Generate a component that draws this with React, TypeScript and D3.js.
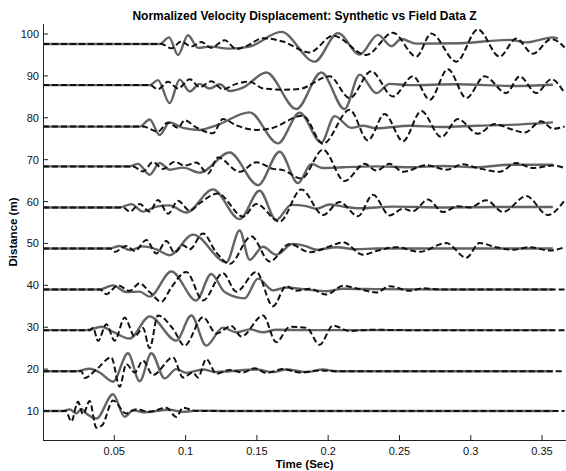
import React from "react";
import * as d3 from "d3";

// receiver offsets (m) and where each trace sits on the axis
const distances = [100, 90, 80, 70, 60, 50, 40, 30, 20, 10];
const baselines = [97.6, 87.8, 77.9, 68.4, 58.6, 48.8, 39.0, 29.3, 19.5, 10.0];

// [time (ms), amplitude (m)] key points
const synthetic: number[][][] = [
  [[0,0],[81.8,0],[88.4,1.6],[94.7,-2.6],[101.7,2.1],[108.7,-0.9],[116.9,-0.6],[130.9,-1.1],[144.9,-0.6],[167.1,2.9],[190.5,-4.2],[206.9,2.6],[222.1,-2.5],[234.9,2.2],[244.3,-0.5],[251.3,1.2],[261.8,0.1],[292.2,0.2],[327.3,1.0],[338.9,0.4],[357.6,1.6],[361.1,1.3]],
  [[0,0],[74.8,0],[80.6,1.2],[88.8,-4.3],[95.8,1.3],[102.9,-1.5],[109.9,0.3],[116.9,-0.8],[124,0.2],[130.9,-1.4],[140.3,-0.6],[156.6,3.0],[177.7,-5.7],[195.2,3.0],[211.5,-5.7],[222.1,2.5],[233.8,-1.9],[243.1,0.3],[257.1,0],[290,0.2],[330,-0.2],[357.6,0.1]],
  [[0,0],[67.8,0],[74.8,1.7],[81.8,-2.0],[88.8,1.0],[98.2,-0.3],[109.9,-0.8],[121.6,0.3],[144.9,3.4],[164.8,-4.0],[180.0,3.3],[195.2,-3.8],[204.5,2.5],[216.2,-0.3],[224.4,0.2],[233.8,-0.4],[257.1,0.2],[280.5,-0.1],[303.9,0.2],[327.3,0.4],[357.6,1.0]],
  [[0,0],[60.8,0],[66.6,0.6],[74.8,-2.0],[81.8,0.8],[88.8,-0.8],[98.2,-0.3],[109.9,-1.5],[130.9,3.3],[150.8,-4.5],[166.0,3.5],[178.8,-4.0],[188.2,0.6],[196.4,-0.4],[210.4,-0.2],[233.8,0],[257.1,-0.2],[280.5,0.1],[303.9,-0.2],[327.3,0.4],[357.6,0.4]],
  [[0,0],[53.8,0],[61.9,0.8],[70.1,-1.0],[79.5,0.2],[88.8,0.5],[100.5,-1.2],[119.2,4.3],[137.9,-2.8],[151.9,4.0],[163.6,-3.0],[174.1,0.6],[184.7,0.3],[191.7,-0.3],[201.0,0.7],[210.4,0.2],[222.1,-0.2],[245,0.2],[280,0],[320,0.1],[357.6,0.1]],
  [[0,0],[46.8,0],[53.8,0.6],[60.8,-0.4],[70.1,0.5],[79.5,-0.2],[88.8,-1.6],[105.2,3.3],[128.6,-3.3],[137.9,4.3],[144.9,-2.7],[154.3,0.4],[163.6,-1.5],[175.3,1.1],[184.7,0.5],[191.7,-0.3],[205.7,0.3],[219.7,-0.2],[233.8,0],[357.6,0]],
  [[0,0],[39.7,0],[49.1,1.0],[58.4,-0.6],[67.8,-0.5],[74.8,-1.7],[90.0,4.3],[107.5,-2.6],[118.0,3.7],[127.4,-0.6],[141.4,-2.1],[150.8,2.6],[161.3,-0.2],[170.6,0.5],[184.7,0],[198.7,-0.4],[210.4,0.2],[233.8,0.1],[280,0],[357.6,0]],
  [[0,0],[30.4,0],[40.9,0.8],[49.1,-0.4],[60.8,-2.0],[74.8,3.3],[93.5,-2.5],[104.0,3.5],[114.5,-3.7],[126.2,0.6],[135.6,-0.5],[144.9,0.2],[154.3,-0.5],[163.6,0.1],[187.0,0],[357.6,0]],
  [[0,0],[23.4,0],[32.7,0.6],[39.7,-0.3],[49.1,-2.5],[59.6,4.3],[67.8,-2.4],[76.0,4.3],[85.3,-1.7],[93.5,0.5],[100.5,-0.4],[112.2,0.4],[121.6,-0.2],[130.9,0],[149.6,0.4],[161.3,-0.2],[170.6,0.4],[184.7,-0.2],[196.4,0.4],[205.7,0],[357.6,0]],
  [[0,0],[14.0,0],[18.7,0.4],[23.4,-0.6],[26.9,0.5],[30.4,-0.6],[37.4,-1.8],[49.1,4.0],[57.3,-1.4],[63.1,0.2],[70.1,-0.3],[88.8,0.3],[98.2,-0.2],[107.5,0.1],[130,0],[357.6,0]],
];

const field: number[][][] = [
  [[0,0],[83.0,0],[90.0,-1.0],[97.0,0.6],[104.0,-0.6],[111.0,0.5],[118.0,-0.9],[127.4,0.9],[135.6,-1.2],[142.6,-0.5],[154.3,1.4],[168.3,0.6],[187.0,-2.0],[203.4,2.0],[226.7,-2.6],[245.4,2.7],[261.8,-3.0],[272.3,2.5],[289.9,-4.2],[305.0,3.5],[320.2,-3.0],[331.9,1.3],[343.6,-2.3],[356.5,1.2],[365.8,-0.8]],
  [[0,0],[75,0],[80.6,-1.0],[87.7,0.8],[94.7,-0.8],[102.9,1.4],[109.9,-0.5],[118.0,0.9],[126.2,-1.0],[135.6,0.3],[144.9,0.8],[154.3,-0.8],[168.3,-1.1],[180,-0.9],[201.0,2.1],[215.1,-3.1],[230.2,3.3],[245.4,-2.7],[259.5,2.1],[271.2,-3.5],[284.0,3.8],[296.9,-3.1],[309.7,2.1],[324.9,-1.9],[334.3,2.1],[346.0,-1.9],[356.5,1.4],[365.8,-1.9]],
  [[0,0],[70,0],[80.6,-1.2],[87.7,1.0],[94.7,-0.3],[99.3,1.5],[107.5,-0.2],[119.2,-1.6],[126.2,1.8],[135.6,0.3],[149.6,-0.8],[159.0,-0.5],[182.3,2.6],[196.4,-4.1],[215.1,4.0],[227.9,-3.3],[239.6,3.0],[252.5,-3.5],[265.3,3.7],[279.3,-2.5],[291.0,1.8],[305.0,-1.7],[316.7,0.6],[327.3,-0.5],[337.8,-1.4],[349.5,1.3],[357.6,-0.5],[365.8,0]],
  [[0,0],[63.1,0],[70.1,-1.2],[77.1,1.0],[84.2,-0.6],[92.3,1.1],[99.3,0.2],[107.5,0.9],[115.7,-1.7],[122.7,2.1],[137.9,-1.3],[149.6,1.0],[161.3,-0.6],[168.3,-0.9],[181.2,-2.9],[196.4,4.0],[211.5,-3.5],[225.6,0.6],[233.8,-1.0],[243.1,0.6],[252.5,-1.3],[268.8,0.3],[282.8,-0.8],[294.5,0.5],[303.9,-0.3],[320.2,-1.3],[331.9,0.8],[343.6,-0.4],[357.6,0.2],[365.8,-0.4]],
  [[0,0],[56.1,0],[60.8,-1.0],[67.8,0.8],[74.8,-1.0],[80.6,1.8],[87.7,-1.5],[94.7,1.6],[102.9,-0.8],[109.9,1.0],[122.7,3.3],[140.3,-2.2],[149.6,0.8],[166.0,-3.4],[181.2,4.3],[196.4,-1.8],[208.0,1.3],[220.9,-2.1],[231.4,3.0],[243.1,-1.9],[252.5,-0.3],[259.5,-0.9],[270.0,1.9],[280.5,-1.1],[291.0,0.3],[299.2,0],[310.9,1.7],[322.6,-1.1],[338.9,2.7],[354.1,-1.8],[365.8,1.7]],
  [[0,0],[46.8,0],[50.3,-0.8],[58.4,0.6],[64.3,-0.6],[72.5,2.0],[79.5,-1.2],[86.5,1.8],[92.3,-1.0],[98.2,0.8],[102.9,-0.2],[112.2,3.6],[121.6,-1.0],[130.9,-3.7],[146.1,2.9],[159.0,-3.1],[173.0,1.1],[187.0,-0.9],[201.0,0.5],[210.4,1.5],[224.4,-1.5],[233.8,-0.6],[247.8,0.3],[264.1,-0.8],[282.8,1.3],[296.9,-2.2],[306.2,1.3],[317.9,0.3],[329.6,-0.3],[341.3,0.3],[355.3,-0.5],[365.8,0.3]],
  [[0,0],[40,0],[44.4,-1.1],[52.6,1.0],[60.8,-0.3],[67.8,1.5],[74.8,-0.6],[83.0,-2.9],[90.0,0.5],[100.5,4.2],[112.2,-2.6],[126.2,3.9],[135.6,-0.5],[149.6,4.2],[161.3,-4.0],[170.6,0.8],[177.7,-0.3],[187.0,0.2],[198.7,-1.2],[210.4,0.9],[222.1,0.1],[233.8,-0.7],[243.1,0.8],[257.1,-0.3],[266.5,0.3],[280,0],[365.8,0]],
  [[0,0],[33,0],[35.1,0.6],[38.6,-2.6],[44.4,1.4],[50.3,-2.5],[57.3,3.0],[64.3,-1.5],[70.1,0.5],[74.8,-4.3],[80.6,3.5],[91.2,0.3],[99.3,-3.7],[112.2,3.1],[121.6,-0.8],[132.1,1.0],[139.1,-1.5],[154.3,3.5],[163.6,-2.9],[173.0,0.8],[184.7,0.6],[194.0,-3.5],[203.4,1.1],[215,-0.2],[230,0.1],[260,0],[365.8,0]],
  [[0,0],[26.9,0],[29.2,-1.6],[37.4,0.4],[47.9,3.3],[53.8,-3.7],[58.4,1.7],[64.3,-0.3],[70.1,2.5],[77.1,-0.9],[91.2,3.3],[98.2,-1.5],[105.2,-0.3],[108.7,-1.5],[114.5,2.9],[121.6,-0.6],[130.9,0.3],[140.3,-0.3],[148.4,0.7],[156.6,-0.4],[168.3,0.5],[180.0,-0.3],[194.0,0.2],[205,0],[365.8,0]],
  [[0,0],[16,0],[19.9,-2.5],[24.5,2.2],[28.1,-0.8],[32.7,2.4],[37.4,-4.0],[41.5,-3.4],[49.1,2.5],[58.4,-0.6],[65.5,0.4],[74.8,-0.2],[86.5,0.8],[93.5,-1.4],[98.2,0.8],[107.5,0],[365.8,0]],
];

const xTicks = [50, 100, 150, 200, 250, 300, 350];
const xTickLabels = ["0.05", "0.1", "0.15", "0.2", "0.25", "0.3", "0.35"];

const W = 566;
const H = 471;
const left = 43;
const bottom = 440;
const top = 24;
const FONT = "'Liberation Sans', Arial, Helvetica, sans-serif";

const App = () => {
  const x = d3.scaleLinear().domain([0, 366.8]).range([left, W]);
  const y = d3.scaleLinear().domain([3.08, 102.39]).range([bottom, top]);

  const makeLine = (base: number) =>
    d3
      .line<number[]>()
      .x((d) => x(d[0]))
      .y((d) => y(base + d[1]))
      .curve(d3.curveMonotoneX);

  return (
    <svg
      width={W}
      height={H}
      style={{ position: "absolute", left: 0, top: 0, background: "#fff" }}
      fontFamily={FONT}
    >
      <rect width={W} height={H} fill="#fff" />

      {/* traces */}
      <g fill="none">
        {synthetic.map((s, i) => (
          <path
            key={"s" + i}
            d={makeLine(baselines[i])(s) || ""}
            stroke="#646464"
            strokeWidth={2.4}
          />
        ))}
        {field.map((s, i) => (
          <path
            key={"f" + i}
            d={makeLine(baselines[i])(s) || ""}
            stroke="#111"
            strokeWidth={2}
            strokeDasharray="6,3"
          />
        ))}
      </g>

      {/* axes */}
      <g stroke="#222" strokeWidth={1}>
        <line x1={left + 0.5} x2={left + 0.5} y1={top} y2={bottom} />
        <line x1={left} x2={W} y1={bottom + 0.5} y2={bottom + 0.5} />
        {distances.map((d) => (
          <line key={d} x1={left} x2={left + 5} y1={y(d)} y2={y(d)} />
        ))}
        {xTicks.map((t) => (
          <line key={t} x1={x(t)} x2={x(t)} y1={bottom} y2={bottom - 5} />
        ))}
      </g>

      <g fontSize={11} fill="#111">
        {distances.map((d) => (
          <text key={d} x={left - 4} y={y(d) + 4} textAnchor="end">
            {d}
          </text>
        ))}
        {xTicks.map((t, i) => (
          <text key={t} x={x(t)} y={455} textAnchor="middle">
            {xTickLabels[i]}
          </text>
        ))}
      </g>

      <text x={(left + W) / 2} y={468} textAnchor="middle" fontSize={11.5} fontWeight="bold">
        Time (Sec)
      </text>
      <text
        transform={`translate(17,${(top + bottom) / 2}) rotate(-90)`}
        textAnchor="middle"
        fontSize={11.5}
        fontWeight="bold"
      >
        Distance (m)
      </text>
      <text x={(left + W) / 2} y={20} textAnchor="middle" fontSize={12} fontWeight="bold">
        Normalized Velocity Displacement: Synthetic vs Field Data Z
      </text>
    </svg>
  );
};

export default App;
